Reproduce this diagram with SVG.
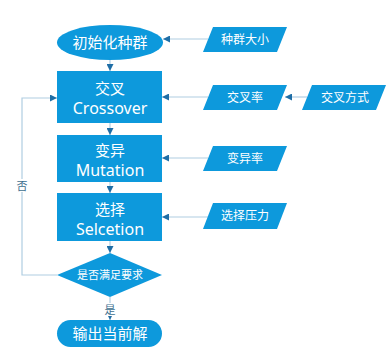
<svg xmlns="http://www.w3.org/2000/svg" width="386" height="353" viewBox="0 0 386 353">
<style>
.n{fill:#0d99dc}
.t{fill:#fff;font-family:"Noto Sans","Noto Sans CJK SC",sans-serif;text-anchor:middle}
.l{fill:none;stroke:#b0cde2;stroke-width:1.2}
.lb{fill:#3d6e8e;font-family:"Noto Sans CJK SC",sans-serif;font-size:11px;text-anchor:middle}
</style>
<defs>
<marker id="a" viewBox="0 0 10 10" refX="10" refY="5" markerWidth="7" markerHeight="7" orient="auto" markerUnits="userSpaceOnUse">
<path d="M0,0L10,5L0,10z" fill="#1f6ea6"/>
</marker>
</defs>
<rect width="386" height="353" fill="#fff"/>
<g id="connectors">
<path class="l" d="M208,39H163" marker-end="url(#a)"/>
<path class="l" d="M208,97H162" marker-end="url(#a)"/>
<path class="l" d="M307,97H285" marker-end="url(#a)"/>
<path class="l" d="M208,158H162" marker-end="url(#a)"/>
<path class="l" d="M208,217H162" marker-end="url(#a)"/>
<path class="l" d="M110,60V71" marker-end="url(#a)"/>
<path class="l" d="M110,123V135" marker-end="url(#a)"/>
<path class="l" d="M110,182V193" marker-end="url(#a)"/>
<path class="l" d="M110,241V253" marker-end="url(#a)"/>
<path class="l" d="M110,297V320" marker-end="url(#a)"/>
<path class="l" d="M57,275H22V98H57" marker-end="url(#a)"/>
<rect x="103" y="303" width="14" height="13" fill="#fff"/>
<text class="lb" x="110" y="314">是</text>
<rect x="15" y="179" width="14" height="13" fill="#fff"/>
<text class="lb" x="22" y="190">否</text>
</g>
<g id="init">
<ellipse class="n" cx="110" cy="42.5" rx="53" ry="17.5"/>
<text class="t" x="110" y="48" font-size="15">初始化种群</text>
</g>
<g id="crossover">
<rect class="n" x="57" y="71" width="105" height="52"/>
<text class="t" x="110" y="94" font-size="15">交叉</text>
<text class="t" x="110" y="114" font-size="16">Crossover</text>
</g>
<g id="mutation">
<rect class="n" x="57" y="135" width="105" height="47"/>
<text class="t" x="110" y="156" font-size="15">变异</text>
<text class="t" x="110" y="176" font-size="16">Mutation</text>
</g>
<g id="selection">
<rect class="n" x="57" y="193" width="105" height="48"/>
<text class="t" x="110" y="215" font-size="15">选择</text>
<text class="t" x="110" y="235" font-size="16">Selcetion</text>
</g>
<g id="decision">
<polygon class="n" points="110,253 162,275 110,297 57,275"/>
<text class="t" x="110" y="279" font-size="11">是否满足要求</text>
</g>
<g id="output">
<rect class="n" x="57" y="320" width="105" height="27" rx="13.5"/>
<text class="t" x="110" y="339" font-size="15">输出当前解</text>
</g>
<g id="popsize">
<polygon class="n" points="213,27 287,27 277,52 203,52"/>
<text class="t" x="245" y="44" font-size="12">种群大小</text>
</g>
<g id="cxrate">
<polygon class="n" points="213,85 287,85 277,110 203,110"/>
<text class="t" x="245" y="102" font-size="12">交叉率</text>
</g>
<g id="cxmethod">
<polygon class="n" points="312,85 386,85 376,110 302,110"/>
<text class="t" x="345" y="102" font-size="12">交叉方式</text>
</g>
<g id="mutrate">
<polygon class="n" points="213,146 287,146 277,171 203,171"/>
<text class="t" x="245" y="163" font-size="12">变异率</text>
</g>
<g id="selpressure">
<polygon class="n" points="213,203 287,203 277,229 203,229"/>
<text class="t" x="245" y="220" font-size="12">选择压力</text>
</g>
</svg>
